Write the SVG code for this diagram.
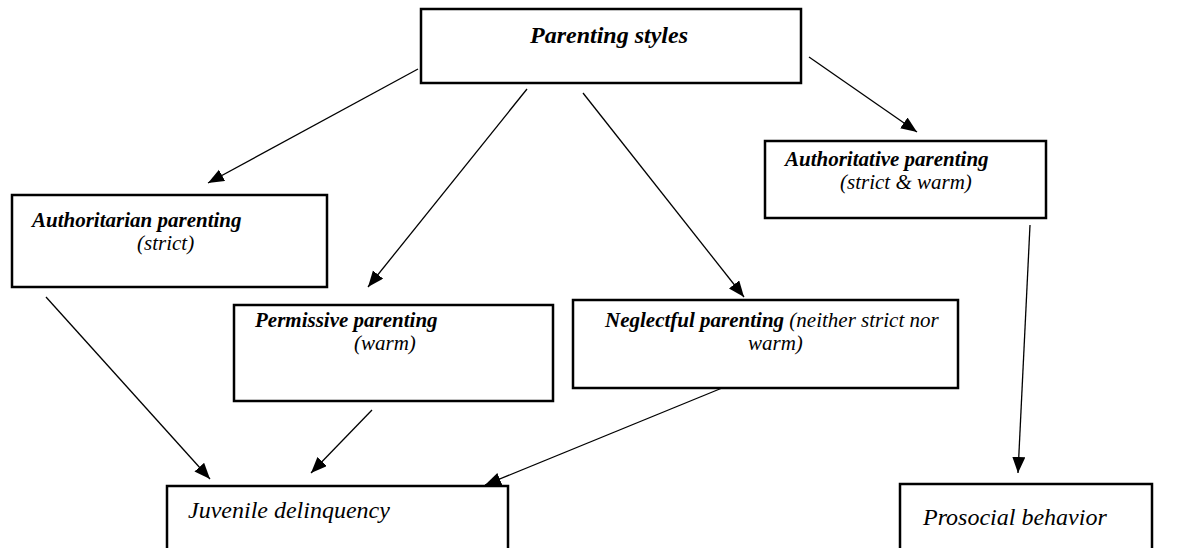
<svg xmlns="http://www.w3.org/2000/svg" width="1186" height="548" viewBox="0 0 1186 548">
<defs>
<style>
.box{fill:#fff;stroke:#000;stroke-width:2.5}
.conn{stroke:#000;stroke-width:1.3;fill:none;marker-end:url(#ah)}
text{font-family:"Liberation Serif","Times New Roman",serif;fill:#000}
.t{font-weight:bold;font-style:italic;font-size:21px}
.s{font-style:italic;font-size:21px}
.big{font-style:italic;font-size:24px}
</style>
<marker id="ah" markerUnits="userSpaceOnUse" markerWidth="18" markerHeight="14" refX="16" refY="6.5" orient="auto">
<path d="M0,0 L16,6.5 L0,13 z" fill="#000"/>
</marker>
</defs>
<rect width="1186" height="548" fill="#fff"/>
<g id="connectors">
<line class="conn" x1="418" y1="69" x2="208" y2="183"/>
<line class="conn" x1="527" y1="89" x2="368" y2="287"/>
<line class="conn" x1="583" y1="93" x2="744" y2="297"/>
<line class="conn" x1="809" y1="57" x2="917" y2="132"/>
<line class="conn" x1="1030" y1="225" x2="1018" y2="473"/>
<line class="conn" x1="46" y1="297" x2="210" y2="479"/>
<line class="conn" x1="372" y1="410" x2="311" y2="473"/>
<line class="conn" x1="727" y1="386" x2="485" y2="485"/>
</g>
<g id="parenting-styles">
<rect class="box" x="421" y="9" width="380" height="74"/>
<text class="t" x="530" y="43" style="font-size:24px">Parenting styles</text>
</g>
<g id="authoritarian">
<rect class="box" x="12" y="195" width="315" height="92"/>
<text class="t" x="32" y="227">Authoritarian parenting</text>
<text class="s" x="137" y="250">(strict)</text>
</g>
<g id="permissive">
<rect class="box" x="234" y="305" width="319" height="96"/>
<text class="t" x="255" y="327">Permissive parenting</text>
<text class="s" x="354" y="350">(warm)</text>
</g>
<g id="neglectful">
<rect class="box" x="573" y="300" width="385" height="88"/>
<text class="t" x="605" y="327">Neglectful parenting<tspan style="font-weight:normal">  (neither strict nor</tspan></text>
<text class="s" x="748" y="350">warm)</text>
</g>
<g id="authoritative">
<rect class="box" x="765" y="141" width="281" height="77"/>
<text class="t" x="785" y="166">Authoritative parenting</text>
<text class="s" x="840" y="189">(strict &amp; warm)</text>
</g>
<g id="juvenile">
<rect class="box" x="167" y="486" width="341" height="80"/>
<text class="big" x="188" y="518">Juvenile delinquency</text>
</g>
<g id="prosocial">
<rect class="box" x="900" y="484" width="252" height="80"/>
<text class="big" x="923" y="525">Prosocial behavior</text>
</g>
</svg>
